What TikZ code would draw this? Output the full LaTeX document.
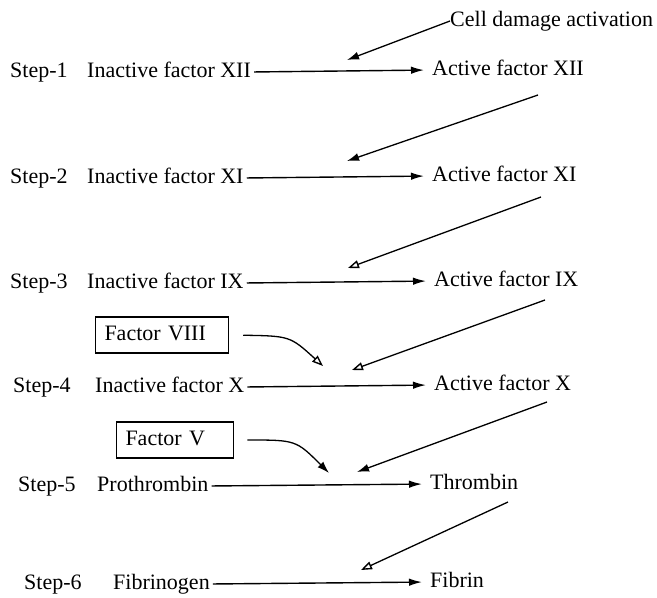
\documentclass[tikz,border=0pt]{standalone}
\usepackage{fontspec}
\setmainfont{Liberation Serif}
\usetikzlibrary{arrows.meta}
\begin{document}
\begin{tikzpicture}[x=1pt,y=-1pt,
  lbl/.style={inner sep=0pt, anchor=west, text height=15pt, text depth=5pt,
    font=\fontsize{22}{25}\selectfont},
  conv/.style={line width=1.4pt, shorten <=3pt, shorten >=8pt,
    -{Latex[length=13pt,width=7.5pt]}},
  feed/.style={line width=1.3pt, -{Latex[length=12pt,width=8pt]}},
  feedopen/.style={line width=1.3pt, -{Triangle[open,length=11pt,width=8pt,line width=1.4pt]}},
  cofactor/.style={draw, line width=1.5pt, inner xsep=9pt, minimum height=36pt,
    align=left, font=\fontsize{22}{25}\selectfont, text height=15pt, text depth=4pt}
]
\useasboundingbox (0,0) rectangle (657,598);

% trigger
\node[lbl] (cell) at (450,21) {Cell damage activation};

% step labels
\node[lbl] (s1) at (10,72)  {Step-1};
\node[lbl] (s2) at (10,178) {Step-2};
\node[lbl] (s3) at (10,283) {Step-3};
\node[lbl] (s4) at (13,387) {Step-4};
\node[lbl] (s5) at (18,486) {Step-5};
\node[lbl] (s6) at (24,584) {Step-6};

% inactive forms
\node[lbl] (i1) at (87,72)  {Inactive factor XII};
\node[lbl] (i2) at (87,178) {Inactive factor XI};
\node[lbl] (i3) at (87,283) {Inactive factor IX};
\node[lbl] (i4) at (95,387) {Inactive factor X};
\node[lbl] (i5) at (97,486) {Prothrombin};
\node[lbl] (i6) at (113,584) {Fibrinogen};

% active forms
\node[lbl] (a1) at (432,70)  {Active factor XII};
\node[lbl] (a2) at (432,176) {Active factor XI};
\node[lbl] (a3) at (434,281) {Active factor IX};
\node[lbl] (a4) at (434,385) {Active factor X};
\node[lbl] (a5) at (430,484) {Thrombin};
\node[lbl] (a6) at (430,582) {Fibrin};

% cofactors
\node[cofactor, text width=115pt] (f8) at (162,335) {Factor VIII};
\node[cofactor, text width=99pt]  (f5) at (175,440) {Factor V};

% conversions
\foreach \k in {1,...,6} \draw[conv] (i\k.east) -- (a\k.west);

% activation targets just above each conversion
\coordinate (t1) at (347,60);
\coordinate (t2) at (347,161);
\coordinate (t3) at (348,268);
\coordinate (t4) at (352,370);
\coordinate (t5) at (357,472);
\coordinate (t6) at (361,570);
\coordinate (t4b) at (323,366);
\coordinate (t5b) at (329,473);

% activating enzymes
\coordinate (e2) at (538,95);
\coordinate (e3) at (541,197);
\coordinate (e4) at (545,300);
\coordinate (e5) at (547,402);
\coordinate (e6) at (508,502);

\draw[feed] (cell.west) -- (t1);
\draw[feed] (e2) -- (t2);
\draw[feedopen] (e3) -- (t3);
\draw[feedopen] (e4) -- (t4);
\draw[feed] (e5) -- (t5);
\draw[feedopen] (e6) -- (t6);

% cofactor contributions
\draw[feedopen, shorten <=14pt] (f8.east) .. controls (290,336) .. (t4b);
\draw[feed, shorten <=13pt] (f5.east) .. controls (296,440) .. (t5b);
\end{tikzpicture}
\end{document}
